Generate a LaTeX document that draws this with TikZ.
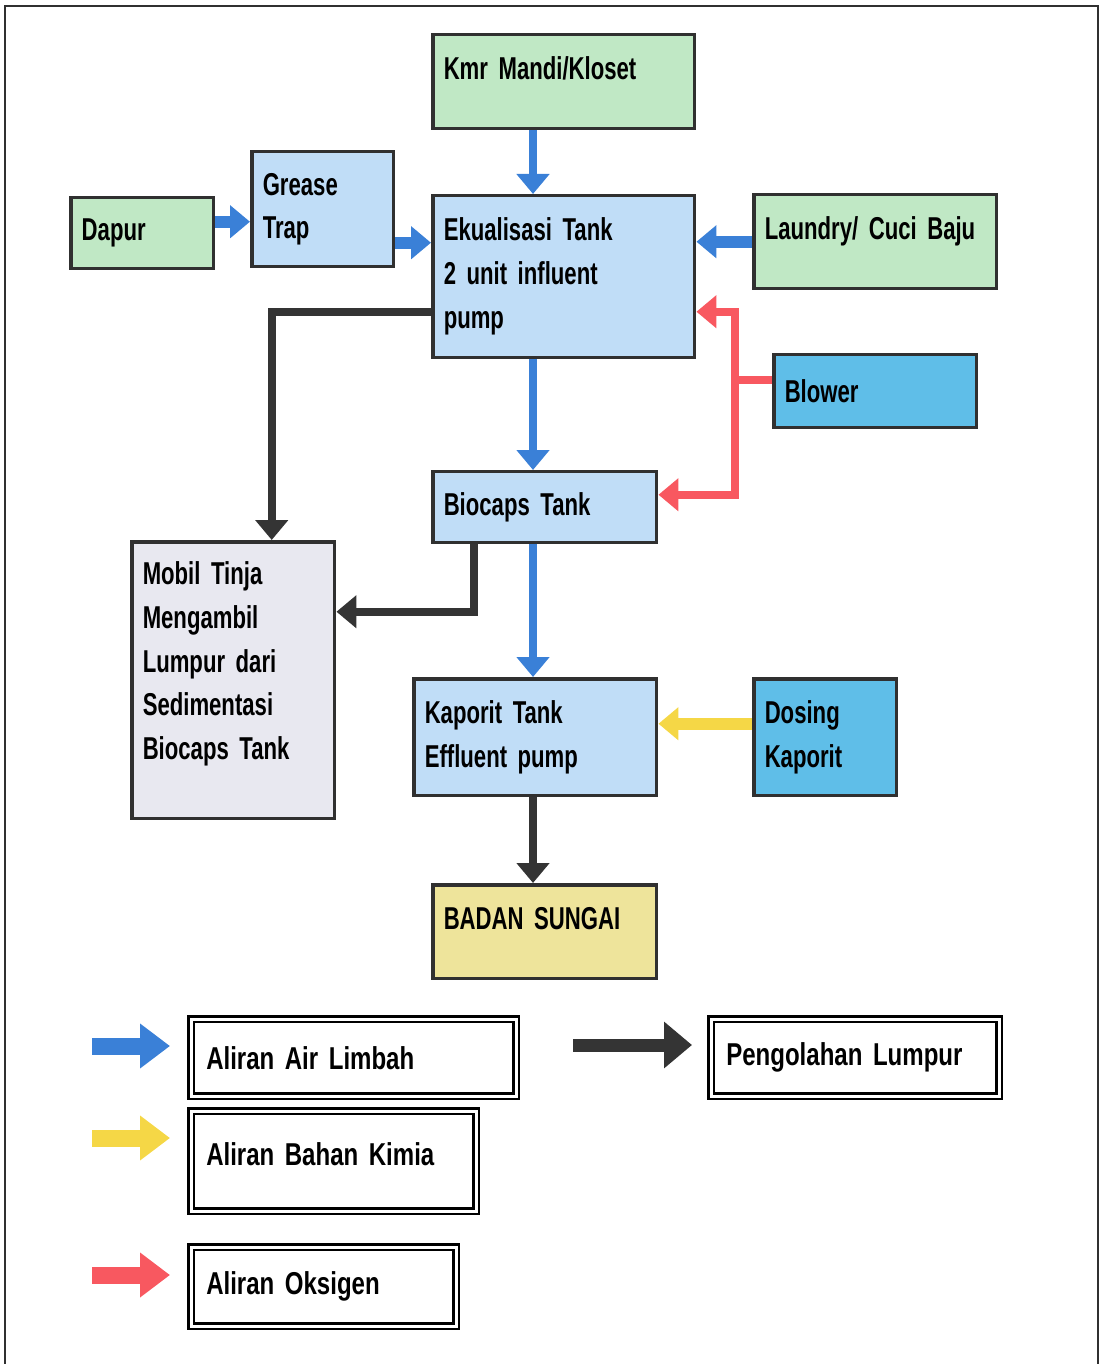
\documentclass[tikz,border=0pt]{standalone}
\usepackage{fontspec}
\setmainfont{Liberation Sans}[FakeStretch=0.7,WordSpace=0.7]
\newfontfamily\legendfont{Liberation Sans}[FakeStretch=0.76,WordSpace=0.7]
\usetikzlibrary{arrows.meta}

\definecolor{kitchengreen}{RGB}{192,232,197}
\definecolor{tankblue}{RGB}{192,221,247}
\definecolor{airblue}{RGB}{95,190,232}
\definecolor{truckgrey}{RGB}{232,232,240}
\definecolor{riveryellow}{RGB}{238,228,155}
\definecolor{wasteblue}{RGB}{58,128,215}
\definecolor{oxyred}{RGB}{248,88,96}
\definecolor{chemyellow}{RGB}{245,215,70}
\definecolor{sludgegrey}{RGB}{52,52,52}
\definecolor{edgegrey}{RGB}{48,48,48}

\begin{document}
\begin{tikzpicture}[x=0.02cm,y=-0.02cm,
  every node/.style={font=\bfseries\fontsize{18}{25}\selectfont},
  unitbox/.style={draw=edgegrey,line width=0.07cm,anchor=north west,align=left,inner xsep=0.22cm,inner ysep=0pt},
  src/.style={unitbox,fill=kitchengreen},
  tank/.style={unitbox,fill=tankblue},
  aux/.style={unitbox,fill=airblue},
  legendbox/.style={draw=black,double=white,double distance=0.06cm,line width=0.05cm,anchor=north west,align=left,inner xsep=0.3cm,inner ysep=0pt,font=\legendfont\bfseries\fontsize{18}{25}\selectfont},
  waste/.style={draw=wasteblue,line width=0.16cm,-{Triangle[width=0.64cm,length=0.4cm]}},
  feed/.style={waste,line width=0.24cm},
  oxy/.style={draw=oxyred,line width=0.16cm,-{Triangle[width=0.64cm,length=0.4cm]}},
  chem/.style={draw=chemyellow,line width=0.24cm,-{Triangle[width=0.64cm,length=0.4cm]}},
  sludge/.style={draw=sludgegrey,line width=0.16cm,-{Triangle[width=0.64cm,length=0.4cm]}},
  keyarrow/.style={line width=0.34cm,-{Triangle[width=0.86cm,length=0.6cm]},shorten >=0.4cm}]
\useasboundingbox (0,0) rectangle (1105,1364);
\draw [edgegrey,line width=0.05cm] (5,6) rectangle (1098,1380);

% sources
\path (431,33) node (kmr) [src,minimum height=1.88cm,text width=4.8cm,text depth=0.55cm] {Kmr Mandi/Kloset};
\path (69,196) node (dapur) [src,minimum height=1.42cm,text width=2.42cm] {Dapur};
\path (752,193) node (laundry) [src,minimum height=1.88cm,text width=4.42cm,text depth=0.55cm] {Laundry/ Cuci Baju};

% tanks
\path (250,150) node (grease) [tank,minimum height=2.3cm,text width=2.4cm] {Grease\\Trap};
\path (431,194) node (eku) [tank,minimum height=3.24cm,text width=4.8cm] {Ekualisasi Tank\\2 unit influent\\pump};
\path (431,470) node (biocaps) [tank,minimum height=1.42cm,text width=4.04cm] {Biocaps Tank};
\path (412,677) node (kaporit) [tank,minimum height=2.34cm,text width=4.42cm] {Kaporit Tank\\Effluent pump};
\path (772,353) node (blower) [aux,minimum height=1.46cm,text width=3.62cm] {Blower};
\path (752,677) node (dosing) [aux,minimum height=2.34cm,text width=2.42cm] {Dosing\\Kaporit};
\path (130,540) node (mobil) [unitbox,fill=truckgrey,minimum height=5.54cm,text width=3.62cm,text depth=4.3cm] {Mobil Tinja\\Mengambil\\Lumpur dari\\Sedimentasi\\Biocaps Tank};
\path (431,883) node (sungai) [unitbox,fill=riveryellow,minimum height=1.88cm,text width=4.04cm,text depth=0.55cm] {BADAN SUNGAI};

% main line
\coordinate (axis) at (533,0);
\draw [waste] (kmr.south -| axis) -- (eku.north -| axis);
\draw [waste] (eku.south -| axis) -- (biocaps.north -| axis);
\draw [waste] (biocaps.south -| axis) -- (kaporit.north -| axis);
\draw [sludge] (kaporit.south -| axis) -- (sungai.north -| axis);
\draw [feed] ([yshift=0.23cm]dapur.east) -- ([yshift=0.23cm]dapur.east -| grease.west);
\draw [feed] ([yshift=-0.67cm]grease.east) -- ([yshift=-0.67cm]grease.east -| eku.west);
\draw [feed] (laundry.west) -- (laundry.west -| eku.east);

% air from blower
\coordinate (split) at (735,380);
\draw [oxy] (blower.west |- split) -- (split) |- ([yshift=-0.7cm]eku.east);
\draw [oxy] (split) |- ([yshift=0.25cm]biocaps.east);

% kaporit dosing
\draw [chem] ([yshift=0.27cm]dosing.west) -- ([yshift=0.27cm]dosing.west -| kaporit.east);

% sludge out
\draw [sludge] ([yshift=-0.7cm]eku.west) -| ([xshift=0.77cm]mobil.north);
\draw [sludge] ([xshift=-1.42cm]biocaps.south) |- ([yshift=1.37cm]mobil.east);

% legend
\path (190,1018) node (air) [legendbox,minimum height=1.54cm,text width=5.9cm] {Aliran Air Limbah};
\path (190,1110) node (kimia) [legendbox,minimum height=2cm,text width=5.1cm,text depth=0.28cm] {Aliran Bahan Kimia};
\path (190,1246) node (oksigen) [legendbox,minimum height=1.58cm,text width=4.7cm] {Aliran Oksigen};
\path (710,1018) node (lumpur) [legendbox,minimum height=1.54cm,text width=5.16cm] {Pengolahan Lumpur};

\coordinate (ka) at (92,1046);
\coordinate (kb) at (92,1138);
\coordinate (kc) at (92,1275);
\coordinate (kd) at (573,1045);
\draw [keyarrow,wasteblue] (ka) -- (ka -| air.west);
\draw [keyarrow,chemyellow] (kb) -- (kb -| kimia.west);
\draw [keyarrow,oxyred] (kc) -- (kc -| oksigen.west);
\draw [keyarrow,sludgegrey,line width=0.26cm,-{Triangle[width=0.9cm,length=0.56cm]},shorten >=0.36cm] (kd) -- (kd -| lumpur.west);
\end{tikzpicture}
\end{document}
